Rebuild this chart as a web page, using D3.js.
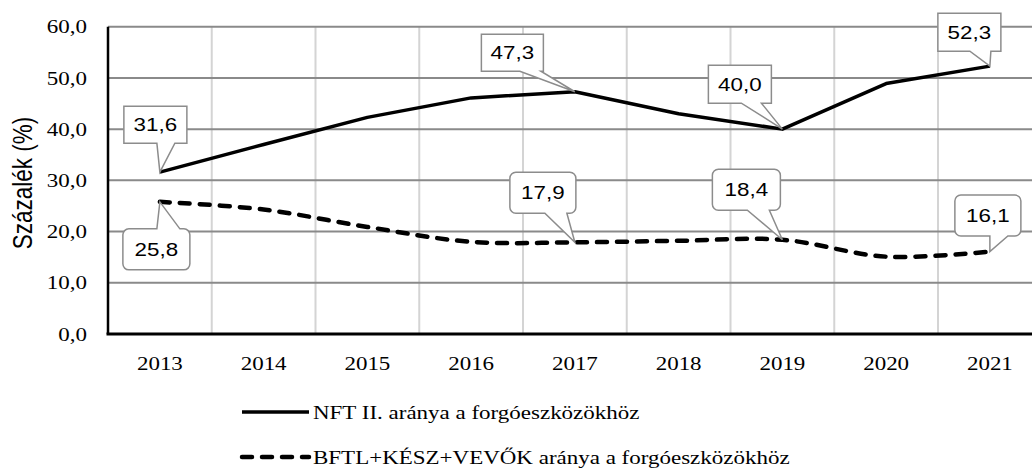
<!DOCTYPE html>
<html>
<head>
<meta charset="utf-8">
<script src="https://cdn.jsdelivr.net/npm/d3@7"></script>
<style>
  html, body { margin: 0; padding: 0; background: #fff; }
  svg { display: block; }
</style>
</head>
<body>
<svg id="chart" width="1032" height="468"></svg>
<script>
// Years on the horizontal axis
const years = ["2013", "2014", "2015", "2016", "2017", "2018", "2019", "2020", "2021"];
// NFT II. share of current assets (%)
const nftValues = [31.6, 37.0, 42.3, 46.1, 47.3, 43.0, 40.0, 48.9, 52.3];
// BFTL+KÉSZ+VEVŐK share of current assets (%)
const bftlValues = [25.8, 24.3, 20.9, 18.0, 17.9, 18.2, 18.4, 15.1, 16.1];
// Y axis ticks
const yTicks = [0, 10, 20, 30, 40, 50, 60];
const seriesNames = ["NFT II. aránya a forgóeszközökhöz", "BFTL+KÉSZ+VEVŐK aránya a forgóeszközökhöz"];
const yTitle = "Százalék (%)";

// Callout placement (box offset from the point, box size, wedge base)
const callouts = [
  { s: 0, year: "2013", dx: -4.5, dy: -47.5, w: 63, h: 37, b1: 1.5, b2: 19.5, r: 0 },
  { s: 0, year: "2017", dx: -62.5, dy: -39, w: 62, h: 37, b1: 7.5, b2: 28.5, r: 0 },
  { s: 0, year: "2019", dx: -42.5, dy: -45, w: 63, h: 38, b1: 1.5, b2: 21.5, r: 0 },
  { s: 0, year: "2021", dx: -20.5, dy: -34, w: 63, h: 38, b1: 0.5, b2: 21.5, r: 0 },
  { s: 1, year: "2013", dx: -3.5, dy: 47.5, w: 67, h: 41, b1: 0.5, b2: 23.5, r: 6 },
  { s: 1, year: "2017", dx: -32, dy: -49.5, w: 66, h: 41, b1: 2, b2: 24, r: 6 },
  { s: 1, year: "2019", dx: -36, dy: -50, w: 68, h: 41, b1: 1, b2: 23, r: 6 },
  { s: 1, year: "2021", dx: -2, dy: -36, w: 66, h: 41, b1: 2, b2: 20, r: 6 }
];

const SX = 1.21; // horizontal text stretch
const svg = d3.select("#chart");

const x = d3.scaleBand().domain(years).range([108, 1041.75]).padding(0);
const y = d3.scaleLinear().domain([0, 60]).range([334, 26.7]);
const cx = d => x(d) + x.bandwidth() / 2;

const fmt = v => d3.format(".1f")(v).replace(".", ",");

function stretchedText(parent, px, py, str, opts) {
  const g = parent.append("g").attr("transform", `translate(${px},${py}) scale(${SX},1)`);
  return g.append("text")
    .attr("x", 0).attr("y", 0)
    .attr("text-anchor", opts.anchor || "middle")
    .attr("dy", opts.dy || "0.35em")
    .attr("font-family", opts.family)
    .attr("font-size", opts.size)
    .attr("fill", "#000")
    .text(str);
}

// Vertical gridlines at category boundaries
const bounds = years.slice(1).map(d => x(d)).concat([x(years[years.length - 1]) + x.bandwidth()]);
svg.append("g").selectAll("line").data(bounds).join("line")
  .attr("x1", d => d).attr("x2", d => d)
  .attr("y1", y(60)).attr("y2", y(0))
  .attr("stroke", "#d4d4d4").attr("stroke-width", 2);

// Horizontal gridlines
svg.append("g").selectAll("line").data(yTicks.filter(t => t > 0)).join("line")
  .attr("x1", 108).attr("x2", 1042)
  .attr("y1", d => y(d)).attr("y2", d => y(d))
  .attr("stroke", "#8a8a8a").attr("stroke-width", 2);

// Axes lines
svg.append("line").attr("x1", 108).attr("x2", 108).attr("y1", y(60)).attr("y2", y(0))
  .attr("stroke", "#000").attr("stroke-width", 2.5);
svg.append("line").attr("x1", 106.5).attr("x2", 1042).attr("y1", y(0)).attr("y2", y(0))
  .attr("stroke", "#000").attr("stroke-width", 3);

// Y tick labels
const yAxis = svg.append("g");
yTicks.forEach(t => stretchedText(yAxis, 87, y(t), fmt(t), { anchor: "end", family: "'Liberation Serif', 'Times New Roman', serif", size: 19 }));

// X tick labels
const xAxis = svg.append("g");
years.forEach(yr => stretchedText(xAxis, cx(yr), 363, yr, { family: "'Liberation Serif', 'Times New Roman', serif", size: 19 }));

// Y axis title
svg.append("g").attr("transform", `translate(22,183) scale(${SX},1) rotate(-90)`)
  .append("text").attr("text-anchor", "middle").attr("dy", "0.35em")
  .attr("font-family", "'Liberation Sans', Arial, sans-serif").attr("font-size", 22.5)
  .text(yTitle);

// Series lines
const lineLinear = d3.line().x((d, i) => cx(years[i])).y(d => y(d));
const lineSmooth = d3.line().x((d, i) => cx(years[i])).y(d => y(d)).curve(d3.curveCatmullRom.alpha(0.5));

svg.append("path").datum(nftValues).attr("d", lineLinear)
  .attr("fill", "none").attr("stroke", "#000").attr("stroke-width", 3.5).attr("stroke-linejoin", "round");
svg.append("path").datum(bftlValues).attr("d", lineSmooth)
  .attr("fill", "none").attr("stroke", "#000").attr("stroke-width", 4.5)
  .attr("stroke-dasharray", "10,10").attr("stroke-linecap", "round");

// Callout shape: box with a wedge pointing to the data point
function calloutPath(tx, ty, c) {
  const bx = tx + c.dx, by = ty + c.dy;
  const x0 = bx - c.w / 2, x1 = bx + c.w / 2, y0 = by - c.h / 2, y1 = by + c.h / 2;
  const r = c.r;
  const p = d3.path();
  const below = ty > y1;
  p.moveTo(x0 + r, y0);
  if (!below) { p.lineTo(bx + c.b1, y0); p.lineTo(tx, ty); p.lineTo(bx + c.b2, y0); }
  p.lineTo(x1 - r, y0);
  if (r) p.arcTo(x1, y0, x1, y0 + r, r);
  p.lineTo(x1, y1 - r);
  if (r) p.arcTo(x1, y1, x1 - r, y1, r);
  if (below) { p.lineTo(bx + c.b2, y1); p.lineTo(tx, ty); p.lineTo(bx + c.b1, y1); }
  p.lineTo(x0 + r, y1);
  if (r) p.arcTo(x0, y1, x0, y1 - r, r);
  p.lineTo(x0, y0 + r);
  if (r) p.arcTo(x0, y0, x0 + r, y0, r);
  p.closePath();
  return { d: p.toString(), bx, by };
}

const series = [nftValues, bftlValues];
const calloutLayer = svg.append("g");
callouts.forEach(c => {
  const i = years.indexOf(c.year);
  const v = series[c.s][i];
  const tx = cx(c.year), ty = y(v);
  const cp = calloutPath(tx, ty, c);
  calloutLayer.append("path").attr("d", cp.d)
    .attr("fill", "#fff").attr("stroke", "#8c8c8c").attr("stroke-width", 1.5)
    .attr("stroke-linejoin", "miter");
  stretchedText(calloutLayer, cp.bx, cp.by, fmt(v), { family: "'Liberation Sans', Arial, sans-serif", size: 18.5 });
});

// Legend
const legend = svg.append("g");
const legendRows = [{ y: 412, dash: null }, { y: 457, dash: "10,10" }];
legendRows.forEach((row, i) => {
  const ln = legend.append("line").attr("x1", 242).attr("x2", 309).attr("y1", row.y).attr("y2", row.y)
    .attr("stroke", "#000");
  if (row.dash) ln.attr("stroke-width", 4.5).attr("stroke-dasharray", row.dash).attr("stroke-linecap", "round");
  else ln.attr("stroke-width", 3.5);
  stretchedText(legend, 313, row.y, seriesNames[i], { anchor: "start", family: "'Liberation Serif', 'Times New Roman', serif", size: 19 });
});
</script>
</body>
</html>
